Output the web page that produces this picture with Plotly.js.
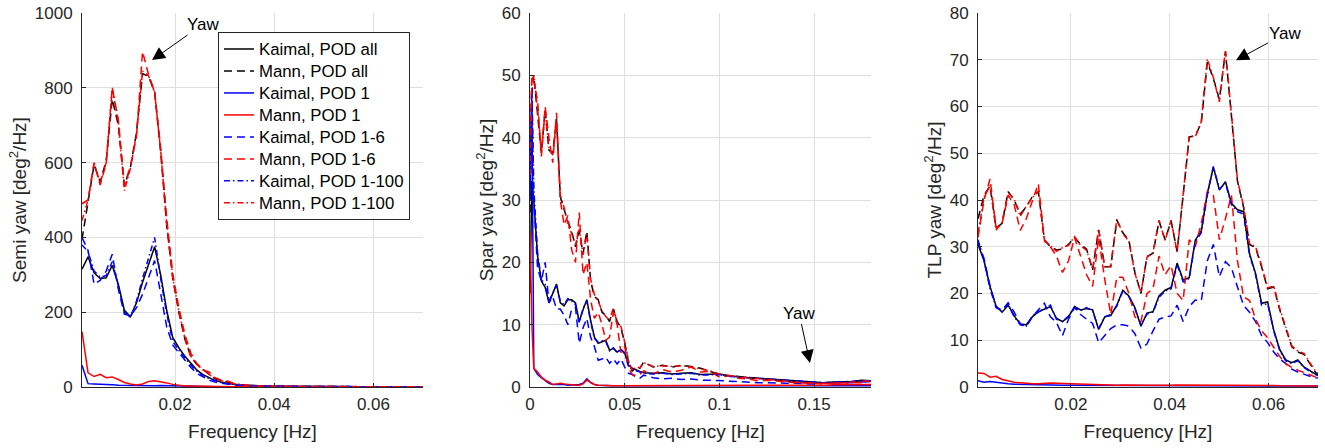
<!DOCTYPE html>
<html><head><meta charset="utf-8">
<script src="https://cdn.plot.ly/plotly-3.0.1.min.js"></script>
<style>html,body{margin:0;padding:0;background:#fff}#chart{width:1325px;height:448px}</style>
</head><body><div id="chart"></div>
<script>
// ---------- frequencies ----------
const freqLow = [0.00122,0.00244,0.00366,0.00488,0.0061,0.00732,0.00854,0.00977,0.01099,0.01221,
0.01343,0.01465,0.01587,0.01709,0.01831,0.01953,0.02075,0.02197,0.02319,0.02441,
0.02563,0.02686,0.02808,0.0293,0.03052,0.03174,0.03296,0.03418,0.0354,0.03662,
0.03784,0.03906,0.04028,0.0415,0.04272,0.04395,0.04517,0.04639,0.04761,0.04883,
0.05005,0.05127,0.05249,0.05371,0.05493,0.05615,0.05737,0.05859,0.05981,0.06104,
0.06226,0.06348,0.0647,0.06592,0.06714,0.06836,0.06958,0.0708];
const freqSpar = [0,0.001,0.002,0.004,0.006,0.008,0.010,0.012,0.014,0.016,
0.018,0.020,0.022,0.024,0.026,0.028,0.030,0.032,0.034,0.036,
0.038,0.040,0.042,0.044,0.046,0.048,0.050,0.052,0.054,0.056,
0.058,0.060,0.065,0.070,0.075,0.080,0.085,0.090,0.095,0.100,
0.105,0.110,0.115,0.120,0.125,0.130,0.135,0.140,0.145,0.150,
0.155,0.160,0.165,0.170,0.175,0.180];

// ---------- series names ----------
const seriesNames = ['Kaimal, POD all','Mann, POD all','Kaimal, POD 1','Mann, POD 1',
  'Kaimal, POD 1-6','Mann, POD 1-6','Kaimal, POD 1-100','Mann, POD 1-100'];

// ---------- Semi yaw ----------
const semiKaimalAll = [315,348,305,290,292,325,275,205,188,225,
280,330,375,300,205,132,105,82,62,45,
33,24,17,13,9.5,7,5.5,4.5,3.5,3,
2.5,2.2,2,1.8,1.6,1.5,1.4,1.3,1.2,1.2,
1.1,1.1,1,1,1,0.9,0.9,0.9,0.8,0.8,
0.8,0.8,0.7,0.7,0.7,0.7,0.6,0.6];
const semiMannAll = [395,490,595,548,605,770,700,538,588,680,
838,830,788,628,432,290,200,128,80,60,
46,34,22,17,12,9,6.5,4.5,3.5,2.8,
2.3,2,1.8,1.6,1.5,1.4,1.3,1.2,1.1,1.1,
1,1,1,0.9,0.9,0.9,0.8,0.8,0.8,0.8,
0.7,0.7,0.7,0.7,0.6,0.6,0.6,0.6];
const semiKaimal1 = [58,9,8,8,7,6,5,4.5,4,3.5,
3.2,3.2,3.5,4,3.5,2.5,2,1.5,1.2,1,
0.9,0.8,0.7,0.6,0.6,0.5,0.5,0.5,0.4,0.4,
0.4,0.4,0.35,0.35,0.35,0.3,0.3,0.3,0.3,0.3,
0.3,0.3,0.3,0.3,0.25,0.25,0.25,0.25,0.25,0.25,
0.2,0.2,0.2,0.2,0.2,0.2,0.2,0.2];
const semiMann1 = [148,38,28,34,25,27,20,12,8,5.5,
8,15,17,15,11,7,4.5,3,2.5,2,
1.6,1.4,1.2,1.1,1,0.9,0.8,0.8,0.7,0.7,
0.7,0.6,0.6,0.6,0.6,0.5,0.5,0.5,0.5,0.5,
0.5,0.4,0.4,0.4,0.4,0.4,0.4,0.4,0.4,0.35,
0.35,0.35,0.35,0.3,0.3,0.3,0.3,0.3];
const semiKaimal6 = [400,365,275,285,310,355,262,195,190,212,
248,292,338,250,160,112,92,72,52,36,
26,18,13,10,7,5.5,4.5,3.5,3,2.5,
2.2,2,1.8,1.6,1.5,1.4,1.3,1.2,1.1,1.1,
1,1,0.9,0.9,0.9,0.8,0.8,0.8,0.7,0.7,
0.7,0.7,0.6,0.6,0.6,0.6,0.6,0.5];
const semiMann6 = [490,500,600,540,598,800,715,540,590,670,
897,835,790,640,450,302,212,140,90,62,
45,40,25,18,16,10,7,5,3.5,3,
2.5,2.2,2,1.8,1.6,1.5,1.4,1.3,1.2,1.2,
1.1,1.1,1,1,1,0.9,0.9,0.9,0.8,0.8,
0.8,0.8,0.7,0.7,0.7,0.7,0.6,0.6];
const semiKaimal100 = [380,362,310,294,298,335,270,200,185,230,
290,345,400,290,195,122,98,78,58,42,
30,22,16,12,9,7,5.5,4.5,3.5,3,
2.5,2.2,2,1.8,1.6,1.5,1.4,1.3,1.2,1.2,
1.1,1.1,1,1,1,0.9,0.9,0.9,0.8,0.8,
0.8,0.8,0.7,0.7,0.7,0.7,0.6,0.6];
const semiMann100 = [445,500,598,545,600,800,708,525,585,676,
845,832,788,632,436,292,202,130,82,60,
46,35,22,17,12.5,9,6.5,4.5,3.5,2.8,
2.3,2,1.8,1.6,1.5,1.4,1.3,1.2,1.1,1.1,
1,1,1,0.9,0.9,0.9,0.8,0.8,0.8,0.8,
0.7,0.7,0.7,0.7,0.6,0.6,0.6,0.6];

// ---------- Spar yaw ----------
const sparKaimalAll = [15,33,30,21,17,16,13.5,15,16.5,13.5,
13,14,14,13.5,10.5,12.4,14,10.7,8,7,
7.3,7.5,5.9,6.2,5.6,6,5.5,3.5,3,2.7,
2.5,2.3,2.2,2.3,2.1,2.2,2.3,2.0,2.0,2.1,
1.8,1.6,1.5,1.4,1.3,1.2,1.0,0.9,0.8,0.8,
0.7,0.8,0.8,0.9,1.1,1.0];
const sparMannAll = [28,47,50,44,37.5,44.5,38,37.5,43,30.5,
28.5,26.5,25,22.5,25,21.4,25,17,14.5,14,
12,11.5,10.5,12.5,10.5,9.5,7,4,2.5,3.3,
3,4,3.2,3.5,3.2,3.5,3.3,3.0,2.5,2,
1.8,1.7,1.5,1.4,1.3,1.1,1.0,0.8,0.7,0.6,
0.6,0.65,0.7,0.8,0.9,1.0];
const sparKaimal1 = [30,46,3,2,1.5,1,0.6,0.4,0.4,0.5,
0.4,0.3,0.3,0.3,0.4,0.6,1.3,0.7,0.4,0.3,
0.25,0.2,0.2,0.2,0.2,0.2,0.15,0.15,0.15,0.15,
0.15,0.15,0.15,0.15,0.15,0.15,0.15,0.15,0.15,0.15,
0.15,0.15,0.15,0.15,0.15,0.15,0.15,0.15,0.15,0.15,
0.15,0.15,0.2,0.2,0.2,0.2];
const sparMann1 = [25,10,3,2.4,1.6,1.1,0.8,0.4,0.5,0.6,
0.5,0.4,0.3,0.3,0.3,0.5,1.1,0.7,0.4,0.3,
0.25,0.2,0.2,0.2,0.2,0.2,0.2,0.2,0.2,0.2,
0.2,0.2,0.2,0.25,0.25,0.25,0.3,0.3,0.3,0.3,
0.3,0.3,0.3,0.3,0.3,0.3,0.3,0.3,0.3,0.3,
0.3,0.35,0.35,0.4,0.4,0.4];
const sparKaimal6 = [36,47,30,19,17,20,13.5,14.5,12.5,12.5,
11.5,10,12.5,12.8,7,9.5,11,8,6.5,4.3,
4.5,4.8,3.8,4.5,3.7,4.5,3.2,2.2,2,1.6,
1.4,1.9,1.5,1.3,1.4,1.2,1.3,1.1,1.1,1.0,
0.9,0.8,0.8,0.7,0.7,0.6,0.6,0.6,0.5,0.5,
0.6,0.6,0.6,0.7,0.8,0.8];
const sparMann6 = [40,50,49,46,37,45,40,36,44,30,
26,27.5,22,20,28,18,20,14,11,12,
10,7.5,8,12,10,5.5,6.5,3,2,1.8,
2,2.6,2.1,2.8,2.4,2.7,3.2,2.4,2.5,1.6,
1.8,1.4,1.3,1.0,1.1,0.9,0.8,0.7,0.6,0.6,
0.5,0.6,0.6,0.7,0.7,0.9];
const sparKaimal100 = [35,48,32,21.5,17.2,16.5,13.8,15.2,16.3,13.8,
13.2,14.2,13.8,13.2,10.3,12.6,13.8,10.5,7.8,7.2,
7.4,7.3,5.8,6.3,5.5,6.1,5.3,3.4,2.9,2.6,
2.4,2.2,2.1,2.2,2.0,2.1,2.2,1.9,1.9,2.0,
1.7,1.6,1.4,1.3,1.2,1.1,1.0,0.9,0.8,0.7,
0.7,0.8,0.8,0.9,1.0,1.0];
const sparMann100 = [34,49,50,44.5,37.8,44.2,38.3,37.2,42.5,30.8,
28.8,26.2,24.6,22.8,25.3,21.2,24.6,17.3,14.8,13.8,
12.2,11.3,10.7,12.7,10.3,9.7,7.2,4.2,2.6,3.2,
3.1,3.9,3.3,3.4,3.3,3.4,3.2,2.9,2.6,2.1,
1.8,1.6,1.5,1.3,1.2,1.1,0.9,0.8,0.7,0.6,
0.6,0.6,0.7,0.8,0.9,1.0];

// ---------- TLP yaw ----------
const tlpKaimalAll = [30.5,27,21.5,17.3,16,17.5,15.2,13.5,13.3,15,
16.1,16.6,17.2,14.7,14,15,17.2,16.5,16.8,16.5,
12.3,15,15.3,17.5,20.7,19.5,17,13,15.8,16.1,
19.5,20.7,21.3,26.5,22.9,23.4,31.4,33.4,41.4,47,
42.1,43.9,39.3,37.9,37.5,28.5,24.3,17.9,18.2,12.2,
8,5.8,5.2,5.8,4.3,3.5,2.7,2.3];
const tlpMannAll = [36,41,43,34,35,41.8,40,37,38.5,40.7,
41.8,31.5,30,29.3,29.5,30.5,32,30.5,29.5,25,
33.6,25.7,25.7,35.7,33,31.4,24.5,20,27.9,28.6,
35.5,31.5,35.5,29,41,53.5,53.7,56.5,69.5,66,
61.5,71.7,58,44,38.5,30.5,29.8,25.7,21,21.4,
16.5,12.5,8.6,7.5,7,5,3,2.5];
const tlpKaimal1 = [1.35,1.0,1.2,1.0,0.8,0.7,0.6,0.55,0.5,0.45,
0.45,0.4,0.4,0.4,0.35,0.35,0.35,0.3,0.3,0.3,
0.3,0.3,0.3,0.3,0.3,0.25,0.25,0.25,0.25,0.25,
0.25,0.25,0.25,0.25,0.3,0.3,0.3,0.3,0.3,0.25,
0.25,0.25,0.25,0.25,0.2,0.2,0.2,0.2,0.2,0.2,
0.2,0.2,0.2,0.2,0.2,0.2,0.2,0.2];
const tlpMann1 = [3.0,2.9,2.1,2.3,1.6,1.3,1.0,0.9,0.75,0.7,
0.7,0.8,0.85,0.8,0.75,0.7,0.6,0.55,0.5,0.5,
0.45,0.45,0.4,0.4,0.45,0.4,0.35,0.35,0.4,0.4,
0.35,0.35,0.4,0.45,0.45,0.4,0.4,0.35,0.35,0.4,
0.4,0.35,0.35,0.3,0.3,0.35,0.3,0.3,0.3,0.3,
0.25,0.25,0.25,0.25,0.25,0.2,0.2,0.2];
const tlpKaimal6 = [31,27.5,21.5,17,16.5,18,16,13.5,12.9,15,
16.5,17.9,15,13.8,11,14.5,17,15.5,14.5,13.6,
9.5,11,12.5,13.3,13.3,13,11.4,8.3,9.2,12,
14.5,15,15.2,17.5,14,17.2,18.6,18.5,27,30.5,
23.6,26.8,25.5,21.4,17.5,16,14,11,9.5,7.5,
6,5,3.8,3.2,2.7,2.3,2,1.8];
const tlpMann6 = [32,40,44.5,34,35,41,39,33.5,36,40,
43.5,31.5,30,28,24.5,27,32,28,24,21.5,
32,23,15.5,23.5,23.5,20,15,14,20,21,
28,24,26,20,18.5,31.5,30,35,41.8,41,
31.5,36,41,27,19.3,18.5,14.5,12,10.5,8.5,
6.5,5,4.2,3.6,3.1,2.6,2.1,2];
const tlpKaimal100 = [31.5,27,21,17,16.2,17.8,15,13.3,13,15.2,
16,16.8,17.5,14.5,14,15.2,17,16.3,17,16.2,
12.5,15,15.5,17.3,20.5,19.3,16.8,13.2,15.6,16,
19.2,20.5,21,26.2,22.5,23.2,31,33,41,47.2,
42.4,43.6,39,37.5,37,28.2,24,17.5,17.8,12,
7.8,5.6,5,5.6,4.2,3.3,2.6,2.2];
const tlpMann100 = [33,40.5,43.2,33.6,35.2,41.5,40.2,36.5,38.7,40.5,
42,31.2,30.2,29,29.8,30.3,32.2,30.3,29.2,25.2,
33.8,25.5,25.9,35.9,32.8,31.2,24.3,20.2,27.7,28.8,
35.7,31.3,35.7,28.8,41.2,53.7,53.5,56.8,70.2,66.2,
61,72,58.3,44.2,38.8,30.7,30,26,21.2,21.6,
16.8,12.8,8.8,7.7,7.2,5.2,3.2,2.6];

// ---------- ticks ----------
const xTicksLow = [0.02,0.04,0.06];
const xTickLabelsLow = ['0.02','0.04','0.06'];
const xTicksSpar = [0,0.05,0.1,0.15];
const xTickLabelsSpar = ['0','0.05','0.1','0.15'];
const yTicksSemi = [0,200,400,600,800,1000];
const yTicksSpar = [0,10,20,30,40,50,60];
const yTicksTlp = [0,10,20,30,40,50,60,70,80];

// ---------- styles ----------
const FONT = 'Liberation Sans, Arial, Helvetica, sans-serif';
const seriesColors = ['#000000','#000000','#0000ff','#ff0000','#0000ff','#ff0000','#0000ff','#ff0000'];
const seriesDash = ['solid','8px,5px','solid','solid','8px,5px','8px,5px','6px,3px,1.5px,3px','6px,3px,1.5px,3px'];

const panels = [
  {freq: freqLow, data: [semiKaimalAll,semiMannAll,semiKaimal1,semiMann1,semiKaimal6,semiMann6,semiKaimal100,semiMann100], xa:'x', ya:'y'},
  {freq: freqSpar, data: [sparKaimalAll,sparMannAll,sparKaimal1,sparMann1,sparKaimal6,sparMann6,sparKaimal100,sparMann100], xa:'x2', ya:'y2'},
  {freq: freqLow, data: [tlpKaimalAll,tlpMannAll,tlpKaimal1,tlpMann1,tlpKaimal6,tlpMann6,tlpKaimal100,tlpMann100], xa:'x3', ya:'y3'}
];

const traces = [];
panels.forEach((p, pi) => {
  p.data.forEach((vals, i) => {
    traces.push({
      type: 'scatter', mode: 'lines', x: p.freq, y: vals,
      xaxis: p.xa, yaxis: p.ya,
      name: '<span style="font-size:16.8px">' + seriesNames[i] + '</span>',
      showlegend: pi === 0, legendgroup: 's' + i,
      line: {color: seriesColors[i], width: 1.5, dash: seriesDash[i]},
      hoverinfo: 'skip'
    });
  });
});

function xAxis(domain, range, tv, tt, anchor) {
  return {domain, range, anchor, tickmode:'array', tickvals: tv, ticktext: tt,
    showline:true, linecolor:'#262626', linewidth:1, mirror:false,
    ticks:'inside', ticklen:4, tickwidth:1, tickcolor:'#262626',
    showgrid:true, gridcolor:'#dfdfdf', gridwidth:1, zeroline:false,
    tickfont:{family:FONT, size:17, color:'#262626'}, ticklabelstandoff:2,
    title:{text:'Frequency [Hz]', font:{family:FONT, size:19, color:'#262626'}, standoff:11},
    automargin:false, fixedrange:true};
}
function yAxis(range, tv, title, anchor) {
  return {domain:[0,1], range, anchor, tickmode:'array', tickvals: tv,
    showline:true, linecolor:'#262626', linewidth:1, mirror:false,
    ticks:'inside', ticklen:4, tickwidth:1, tickcolor:'#262626',
    showgrid:true, gridcolor:'#dfdfdf', gridwidth:1, zeroline:false,
    tickfont:{family:FONT, size:17, color:'#262626'}, ticklabelstandoff:5,
    title:{text:title, font:{family:FONT, size:19, color:'#262626'}, standoff:3},
    automargin:false, fixedrange:true};
}

function yawNote(xref, yref, x, y, ax, ay) {
  return {xref, yref, x, y, text:'Yaw', showarrow:true, ax, ay, axref:'pixel', ayref:'pixel',
    arrowhead:2, arrowsize:2.6, arrowwidth:1, arrowcolor:'#000', standoff:0,
    font:{family:FONT, size:17, color:'#000'}};
}

const layout = {
  width:1325, height:448, paper_bgcolor:'#fff', plot_bgcolor:'#fff',
  margin:{l:0, r:0, t:13, b:61},
  showlegend:true,
  font:{family:FONT, color:'#262626'},
  xaxis: xAxis([0.06189,0.31925],[0.00122,0.07], xTicksLow, xTickLabelsLow, 'y'),
  xaxis2: xAxis([0.4,0.65736],[0,0.18], xTicksSpar, xTickLabelsSpar, 'y2'),
  xaxis3: xAxis([0.73811,0.99472],[0.00122,0.07], xTicksLow, xTickLabelsLow, 'y3'),
  yaxis: yAxis([0,1000], yTicksSemi, 'Semi yaw [deg<sup>2</sup>/Hz]', 'x'),
  yaxis2: yAxis([0,60], yTicksSpar, 'Spar yaw [deg<sup>2</sup>/Hz]', 'x2'),
  yaxis3: yAxis([0,80], yTicksTlp, 'TLP yaw [deg<sup>2</sup>/Hz]', 'x3'),
  legend:{x:0.1645, y:0.9492, xanchor:'left', yanchor:'top', bgcolor:'#fff',
    bordercolor:'#262626', borderwidth:1, font:{family:FONT, size:14.6, color:'#000'},
    tracegroupgap:0, traceorder:'normal'},
  annotations:[
    yawNote('x','y',0.01534,874,51,-36),
    yawNote('x2','y2',0.1478,3.85,-11,-50),
    yawNote('x3','y3',0.0534,69.9,50,-27)
  ]
};

Plotly.newPlot('chart', traces, layout, {staticPlot:true, displayModeBar:false});
</script></body></html>
